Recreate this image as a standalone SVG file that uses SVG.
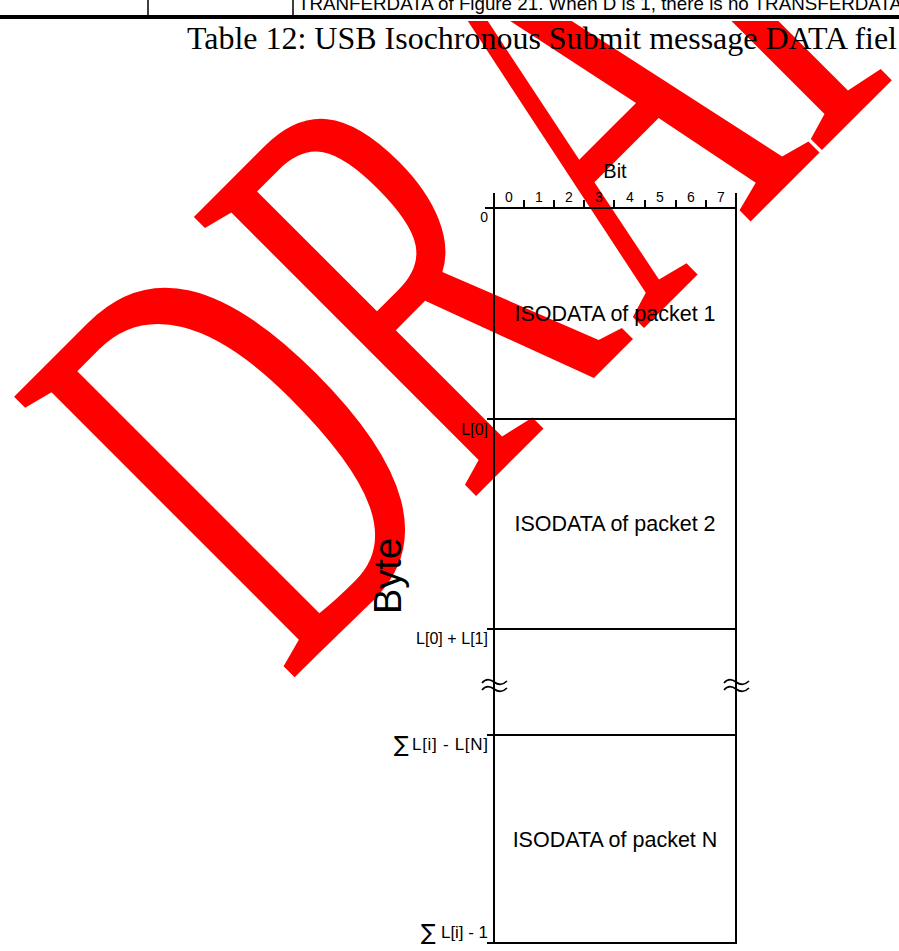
<svg xmlns="http://www.w3.org/2000/svg" width="899" height="951" viewBox="0 0 899 951">
<style>
.ln{stroke:#000;stroke-width:2;fill:none}
.sans{font-family:"Liberation Sans",Arial,sans-serif;fill:#000}
.lbl{font-size:16px;text-anchor:end}
.sig{font-size:22px;text-anchor:start;font-family:"DejaVu Sans",sans-serif}
.dig{font-size:14px;text-anchor:middle}
.box{font-size:21.5px;text-anchor:middle}
.brk{stroke:#000;stroke-width:1.6;fill:none}
</style>
<defs>
<clipPath id="wmclip"><rect x="0" y="21" width="899" height="930"/></clipPath>
</defs>
<rect width="899" height="951" fill="#fff"/>
<g id="watermark" clip-path="url(#wmclip)">
<text transform="translate(287.5,684.5) rotate(-45) scale(0.581,1)" font-family="Liberation Serif,'Times New Roman',serif" font-size="606" fill="#ff0000">DR<tspan dx="20">A</tspan><tspan dx="-20">FT</tspan></text>
</g>
<g id="table-fragment">
<line x1="148" y1="0" x2="148" y2="15" stroke="#000" stroke-width="1.5"/>
<line x1="293" y1="0" x2="293" y2="15" stroke="#000" stroke-width="1.5"/>
<line x1="0" y1="17" x2="899" y2="17" stroke="#000" stroke-width="4"/>
<text class="sans" x="298" y="10" font-size="19" textLength="604" lengthAdjust="spacingAndGlyphs">TRANFERDATA of Figure 21.  When D is 1, there is no TRANSFERDATA</text>
</g>
<text id="caption" x="187" y="49" font-family="Liberation Serif,'Times New Roman',serif" font-size="31.5" fill="#000" textLength="710" lengthAdjust="spacingAndGlyphs">Table 12: USB Isochronous Submit message DATA fiel</text>
<g id="ruler">
<text class="sans" x="615" y="178" font-size="20" text-anchor="middle">Bit</text>
<line class="ln" x1="485" y1="208" x2="736" y2="208"/>
<path class="ln" d="M524,200V208M554,200V208M584,200V208M614,200V208M645,200V208M676,200V208M706,200V208"/>
<g class="sans dig">
<text x="509" y="202">0</text><text x="539" y="202">1</text><text x="569" y="202">2</text><text x="599" y="202">3</text><text x="630" y="202">4</text><text x="660" y="202">5</text><text x="691" y="202">6</text><text x="721" y="202">7</text>
</g>
</g>
<g id="frame">
<line class="ln" x1="494" y1="193" x2="494" y2="944"/>
<line class="ln" x1="736" y1="193" x2="736" y2="944"/>
</g>
<g id="packet1">
<text class="sans box" x="615" y="321">ISODATA of packet 1</text>
<text class="sans" x="488" y="222" font-size="14" text-anchor="end">0</text>
</g>
<g id="packet2">
<line class="ln" x1="487" y1="419" x2="736" y2="419"/>
<text class="sans lbl" x="488" y="435">L[0]</text>
<text class="sans box" x="615" y="531">ISODATA of packet 2</text>
</g>
<g id="gap">
<line class="ln" x1="487" y1="629" x2="736" y2="629"/>
<text class="sans" x="416" y="644" font-size="16" textLength="72" lengthAdjust="spacing">L[0] + L[1]</text>
<path class="brk" d="M482,683 C486,678 490,679 494,682 S502,686 507,681 M482,690 C486,685 490,686 494,689 S502,693 507,688"/>
<path class="brk" d="M724,683 C728,678 732,679 736,682 S744,686 749,681 M724,690 C728,685 732,686 736,689 S744,693 749,688"/>
</g>
<g id="packetN">
<line class="ln" x1="487" y1="735" x2="736" y2="735"/>
<text class="sig" x="394" y="752">∑</text>
<text class="sans" x="412" y="750" font-size="17" textLength="76" lengthAdjust="spacing">L[i] - L[N]</text>
<text class="sans box" x="615" y="847">ISODATA of packet N</text>
<line class="ln" x1="487" y1="943" x2="736" y2="943"/>
<text class="sig" x="421" y="940">∑</text>
<text class="sans" x="441" y="938" font-size="17" textLength="47" lengthAdjust="spacing">L[i] - 1</text>
</g>
<text id="byte-axis" class="sans" transform="translate(401,576) rotate(-90)" font-size="38" text-anchor="middle">Byte</text>
</svg>
